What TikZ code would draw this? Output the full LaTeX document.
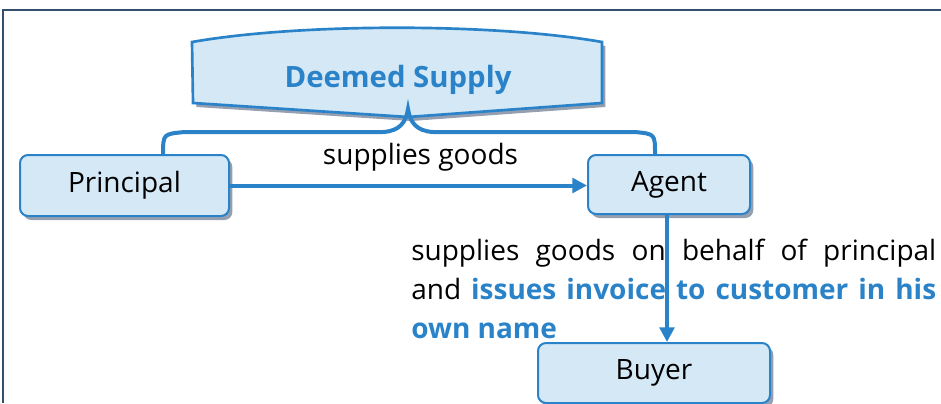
\documentclass[tikz,border=0pt]{standalone}
\usepackage{fontspec}
\setmainfont{Open Sans}
\usepackage{xcolor}
\definecolor{vizFill}{HTML}{D4E8F6}
\definecolor{vizLine}{HTML}{2A83C8}
\definecolor{vizShadow}{HTML}{959FAF}
\definecolor{vizFrame}{HTML}{344E6E}
\usetikzlibrary{shadows, arrows.meta}
\tikzset{
  party/.style={rectangle, rounded corners=6pt, draw=vizLine, line width=1.5pt, fill=vizFill,
    font=\fontsize{21}{25}\selectfont,
    drop shadow={shadow xshift=2.5pt, shadow yshift=-3pt, fill=vizShadow, opacity=1}},
  flow/.style={vizLine, line width=3pt, -{Triangle[length=11pt, width=11pt]}},
  caption/.style={font=\fontsize{21}{29}\selectfont, text=black, inner sep=0pt}
}

\begin{document}
\begin{tikzpicture}[x=0.75pt, y=-0.75pt]
  \useasboundingbox (0,0) rectangle (941,403);
  \draw[vizFrame, line width=1.5pt] (3,403) -- (3,10) -- (941,10);
  % deemed supply banner
  \draw[draw=vizLine, line width=2pt, fill=vizFill,
    drop shadow={shadow xshift=2.5pt, shadow yshift=-3pt, fill=vizShadow, opacity=1}]
    (192,42) .. controls (300,23) and (494,23) .. (602,42) -- (602,103) -- (408,117) -- (193,103) -- cycle;
  \node[font=\fontsize{22}{26}\selectfont\bfseries, text=vizLine] (deemed) at (398,80) {Deemed Supply};
  \coordinate (tip) at (408,109);
  % parties
  \node[party, minimum width=156.75pt, minimum height=45.75pt] (principal) at (124.5,185.5) {Principal};
  \node[party, minimum width=121.5pt, minimum height=44.25pt] (agent) at (669,184.5) {Agent};
  \node[party, minimum width=174pt, minimum height=45pt] (buyer) at (654,373) {Buyer};
  % brace
  \draw[vizLine, line width=3pt]
    ([xshift=29pt]principal.north) .. controls (163,134) .. (185,132) -- (383,132)
    .. controls (400,131) and (406,122) .. (tip)
    .. controls (410,122) and (416,131) .. (433,132) -- (635,132)
    .. controls (655,134) .. ([xshift=-10.5pt]agent.north);
  \draw[flow] (principal.east) -- node[caption, midway, above=9pt, xshift=9pt] {supplies goods} (principal.east -| agent.west);
  \node[caption, text width=393.75pt, align=justify, anchor=north west] (note) at (411,239)
    {\hyphenpenalty=10000 supplies goods on behalf of principal\linebreak and
     \textbf{\color{vizLine}issues invoice to customer in his\linebreak own name}};
  \draw[flow] ([xshift=-1.5pt]agent.south) -- ([xshift=-1.5pt]agent.south |- buyer.north);
\end{tikzpicture}
\end{document}
